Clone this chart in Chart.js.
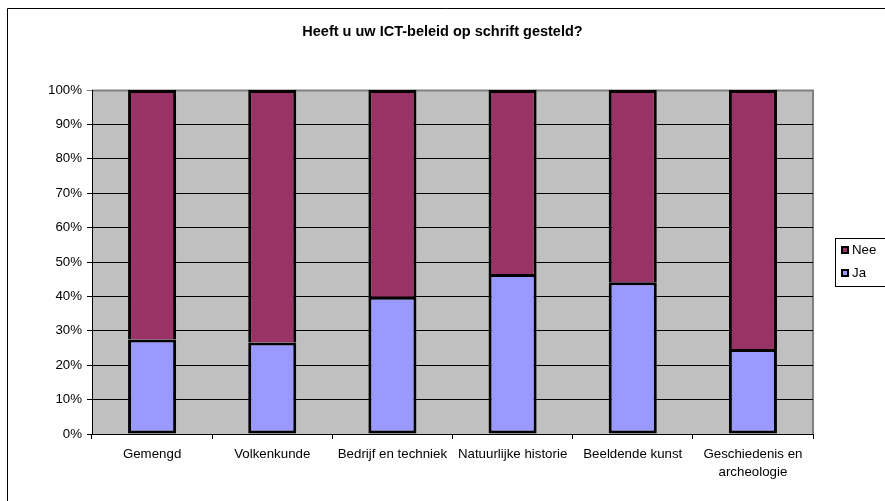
<!DOCTYPE html>
<html>
<head>
<meta charset="utf-8">
<script src="https://cdn.jsdelivr.net/npm/chart.js@4/dist/chart.umd.min.js"></script>
<style>
    html, body { margin: 0; padding: 0; background: white; }
    #wrap { width: 885px; height: 501px; }
</style>
</head>
<body>
<div id="wrap"><canvas id="chart" width="885" height="501"></canvas></div>
<script>
let categories = ['Gemengd', 'Volkenkunde', 'Bedrijf en techniek', 'Natuurlijke historie', 'Beeldende kunst', ['Geschiedenis en', 'archeologie']];
let jaValues = [27.5, 26.6, 39.9, 46.5, 44.1, 24.7];
let neeValues = [72.5, 73.4, 60.1, 53.5, 55.9, 75.3];
let yTicks = [0, 10, 20, 30, 40, 50, 60, 70, 80, 90, 100];

const FONT = "'Liberation Sans', Arial, sans-serif";

// Gray plot area + outer frame, like the old Excel charts
const backdrop = {
    id: 'backdrop',
    beforeDraw: (chart) => {
        let ctx = chart.ctx;
        let a = chart.chartArea;
        ctx.save();
        ctx.fillStyle = 'white';
        ctx.fillRect(0, 0, chart.width, chart.height);

        ctx.strokeStyle = 'black';
        ctx.lineWidth = 1;
        ctx.beginPath();
        ctx.moveTo(7.5, chart.height);
        ctx.lineTo(7.5, 8.5);
        ctx.lineTo(chart.width, 8.5);
        ctx.stroke();

        ctx.fillStyle = '#C0C0C0';
        ctx.fillRect(a.left, a.top, a.right - a.left, a.bottom - a.top);
        ctx.strokeStyle = '#808080';
        ctx.lineWidth = 2;
        ctx.beginPath();
        ctx.moveTo(a.left, a.top + 0.5);
        ctx.lineTo(a.right, a.top + 0.5);
        ctx.lineTo(a.right, a.bottom);
        ctx.stroke();
        ctx.restore();
    }
};

// Boxed legend on the right (Nee above Ja)
const boxLegend = {
    id: 'boxLegend',
    afterDraw: (chart) => {
        let ctx = chart.ctx;
        let sets = chart.data.datasets.slice().reverse();
        ctx.save();
        ctx.fillStyle = 'white';
        ctx.fillRect(835, 238, 60, 49);
        ctx.strokeStyle = 'black';
        ctx.lineWidth = 1;
        ctx.strokeRect(835.5, 238.5, 60, 48);

        ctx.font = '13.3px ' + FONT;
        ctx.textBaseline = 'middle';
        for (let i = 0; i < sets.length; i++) {
            let y = 250 + i * 23;
            ctx.fillStyle = sets[i].backgroundColor;
            ctx.fillRect(841, y - 4, 8, 8);
            ctx.lineWidth = 2;
            ctx.strokeRect(842, y - 3, 6, 6);
            ctx.fillStyle = 'black';
            ctx.fillText(sets[i].label, 852, y + 0.5);
        }
        ctx.restore();
    }
};

let ctx = document.getElementById('chart');

let chart = new Chart(ctx, {
    type: 'bar',
    data: {
        labels: categories,
        datasets: [
            {
                label: 'Ja',
                data: jaValues,
                backgroundColor: '#9999FF',
                borderColor: 'black',
                borderWidth: 3,
                borderSkipped: false,
                barPercentage: 0.4,
                categoryPercentage: 1
            },
            {
                label: 'Nee',
                data: neeValues,
                backgroundColor: '#993366',
                borderColor: 'black',
                borderWidth: 3,
                borderSkipped: 'start',
                barPercentage: 0.4,
                categoryPercentage: 1
            }
        ]
    },
    options: {
        responsive: false,
        animation: false,
        layout: {
            padding: 0
        },
        scales: {
            x: {
                stacked: true,
                offset: true,
                afterFit: (scale) => { scale.height = 67; },
                grid: {
                    offset: true,
                    drawOnChartArea: false,
                    color: 'black',
                    tickLength: 5
                },
                border: { color: 'black', width: 1 },
                ticks: {
                    color: 'black',
                    padding: 7,
                    maxRotation: 0,
                    autoSkip: false,
                    font: { family: FONT, size: 13.3, lineHeight: 1.3 }
                }
            },
            y: {
                stacked: true,
                min: 0,
                max: 100,
                afterFit: (scale) => { scale.width = 92; },
                afterBuildTicks: (scale) => {
                    scale.ticks = yTicks.map(v => ({ value: v }));
                },
                grid: {
                    color: (c) => (c.tick && c.tick.value === 100) ? '#808080' : 'black',
                    tickLength: 5
                },
                border: { color: 'black', width: 1 },
                ticks: {
                    color: 'black',
                    padding: 5,
                    font: { family: FONT, size: 13.3 },
                    callback: (v) => v + '%'
                }
            },
            // empty axis on the right only keeps room for the legend
            side: {
                type: 'linear',
                position: 'right',
                display: true,
                afterFit: (scale) => { scale.width = 72; },
                grid: { display: false },
                border: { display: false },
                ticks: { display: false }
            }
        },
        plugins: {
            legend: { display: false },
            tooltip: { enabled: false },
            title: {
                display: true,
                text: 'Heeft u uw ICT-beleid op schrift gesteld?',
                color: 'black',
                font: { family: FONT, size: 14.5, weight: 'bold', lineHeight: 1.2 },
                padding: { top: 23.3, bottom: 49.3 }
            }
        }
    },
    plugins: [backdrop, boxLegend]
});
</script>
</body>
</html>
